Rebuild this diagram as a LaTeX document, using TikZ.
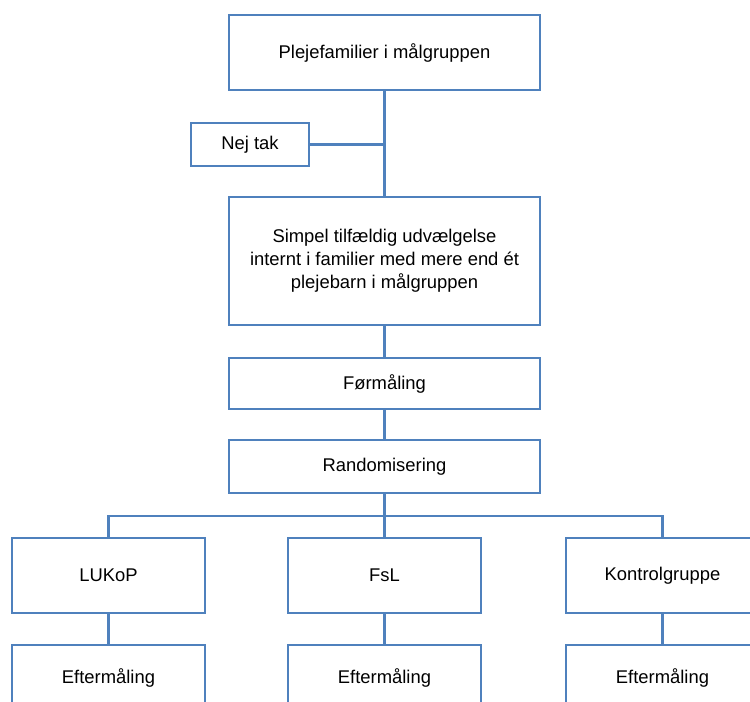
\documentclass[tikz,border=0pt]{standalone}
\usepackage{fontspec}
\setmainfont{Liberation Sans}
\definecolor{boxblue}{RGB}{79,129,189}
\begin{document}
\begin{tikzpicture}[x=0.75pt,y=-0.75pt,
    flowbox/.style={draw=boxblue, line width=2pt, fill=white, align=center,
        font=\fontsize{13.8}{17.3}\selectfont, inner sep=0pt},
    link/.style={draw=boxblue, line width=2pt}]

        \useasboundingbox (0,0) rectangle (750,702);
        \clip (0,0) rectangle (750,702);

        % boxes
        \node[flowbox, minimum width=233.25pt, minimum height=56.25pt] (maal) at (384.5,52.5) {Plejefamilier i målgruppen};
        \node[flowbox, minimum width=88.5pt, minimum height=32.25pt] (nejtak) at (250,144.5) {Nej tak};
        \node[flowbox, minimum width=233.25pt, minimum height=96pt] (udvalg) at (384.5,261) {Simpel tilfældig udvælgelse\\internt i familier med mere end ét\\plejebarn i målgruppen};
        \node[flowbox, minimum width=233.25pt, minimum height=38.25pt] (foer) at (384.5,383.5) {Førmåling};
        \node[flowbox, minimum width=233.25pt, minimum height=39.75pt] (rand) at (384.5,466.5) {Randomisering};

        \node[flowbox, minimum width=144.75pt, minimum height=56.25pt] (lukop) at (108.5,575.5) {LUKoP};
        \node[flowbox, minimum width=144.75pt, minimum height=56.25pt] (fsl) at (384.5,575.5) {FsL};
        \node[flowbox, minimum width=144.75pt, minimum height=56.25pt] (kontrol) at (662.5,575.5) {Kontrolgruppe};

        \node[flowbox, minimum width=144.75pt, minimum height=49.5pt] (eftA) at (108.5,678) {Eftermåling};
        \node[flowbox, minimum width=144.75pt, minimum height=49.5pt] (eftB) at (384.5,678) {Eftermåling};
        \node[flowbox, minimum width=144.75pt, minimum height=49.5pt] (eftC) at (662.5,678) {Eftermåling};

        % connectors
        \coordinate (split) at (384.5,516);
        \draw[link] (maal) -- (udvalg);
        \draw[link] (nejtak.east) -- (nejtak.east -| maal.south);
        \draw[link] (udvalg) -- (foer);
        \draw[link] (foer) -- (rand);
        \draw[link] (rand) -- (split);
        \draw[link] (lukop.north) |- (split) -| (kontrol.north);
        \draw[link] (split) -- (fsl);
        \draw[link] (lukop) -- (eftA);
        \draw[link] (fsl) -- (eftB);
        \draw[link] (kontrol) -- (eftC);
    \end{tikzpicture}
\end{document}
